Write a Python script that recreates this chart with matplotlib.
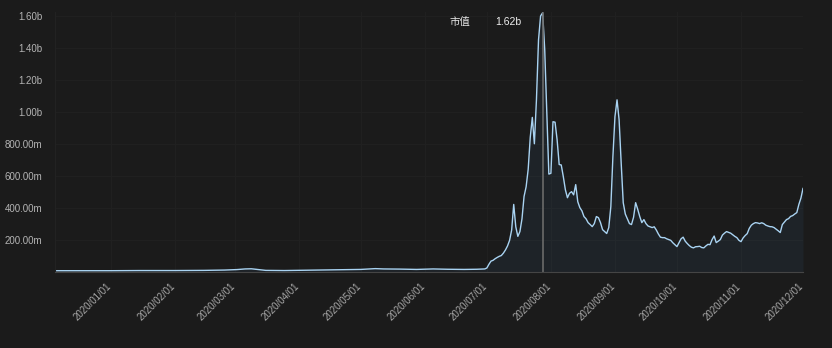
"""Market cap line chart (dark theme) recreated with matplotlib."""

import matplotlib.pyplot as plt
import matplotlib.dates as mdates
import matplotlib.transforms as mtransforms
import numpy as np
import pandas as pd
from matplotlib.ticker import FuncFormatter

# sparse readings for the flat first half (date, value in millions)
early_dates = [
    "2019-12-05", "2019-12-20", "2020-01-01", "2020-01-15", "2020-02-01",
    "2020-02-15", "2020-02-25", "2020-03-02", "2020-03-06", "2020-03-09",
    "2020-03-12", "2020-03-16", "2020-03-25", "2020-04-05", "2020-04-15",
    "2020-04-25", "2020-05-01", "2020-05-05", "2020-05-08", "2020-05-12",
    "2020-05-20", "2020-05-28", "2020-06-05", "2020-06-12", "2020-06-20",
    "2020-06-26", "2020-06-30",
]
early_values = [
    5, 5, 5, 6, 6, 7, 9, 12, 16, 17, 13, 7, 6, 8, 10, 11, 13, 16, 18, 16,
    15, 13, 16, 14, 13, 14, 16,
]

# daily readings from 2020-07-01 to 2020-12-01 (millions)
jul = [22, 45, 65, 70, 80, 88, 95, 100, 115, 135, 160, 195, 260, 420, 280,
       220, 250, 330, 470, 530, 640, 840, 965, 800, 1075, 1450, 1600, 1620,
       1390, 1010, 610]
aug = [615, 938, 935, 825, 670, 667, 594, 512, 462, 490, 500, 480, 544, 437,
       400, 380, 344, 330, 306, 294, 281, 300, 344, 337, 306, 262, 250, 238,
       275, 406, 719]
sep = [970, 1075, 950, 681, 431, 360, 330, 300, 294, 340, 431, 390, 344, 306,
       325, 300, 285, 280, 275, 280, 260, 235, 215, 212, 212, 205, 200, 195,
       180, 168]
oct_ = [156, 180, 205, 215, 190, 175, 162, 152, 148, 155, 156, 158, 150, 148,
        160, 170, 168, 200, 222, 181, 190, 200, 228, 240, 250, 245, 240, 230,
        220, 212, 195]
nov = [187, 210, 225, 237, 270, 290, 300, 306, 304, 300, 305, 300, 290, 285,
       281, 280, 275, 265, 255, 244, 294, 310, 325, 331, 345, 350, 360, 369,
       420, 460]
dec = [520]

y_ticks = [200, 400, 600, 800, 1000, 1200, 1400, 1600]
tooltip_label = "市值"

BG = "#1b1b1b"
LINE = "#a9d3f2"


def fmt_value(v, _pos=None):
    if v >= 1000:
        return f"{v / 1000:.2f}b"
    return f"{v:.2f}m"


def main() -> None:
    daily = jul + aug + sep + oct_ + nov + dec
    daily_dates = pd.date_range("2020-07-01", periods=len(daily), freq="D")
    dates = pd.to_datetime(early_dates).append(daily_dates)
    values = np.array(early_values + daily, dtype=float)

    plt.rcParams["font.family"] = ["Liberation Sans", "DejaVu Sans"]
    fig = plt.figure(figsize=(8.32, 3.48), dpi=100, facecolor=BG)
    ax = fig.add_axes([55 / 832, 1 - 271.5 / 348, 748 / 832, 259.5 / 348])
    ax.set_facecolor(BG)

    ax.fill_between(dates, values, 0, color="#3f6f9e", alpha=0.10, lw=0)
    ax.plot(dates, values, color=LINE, lw=1.0)

    peak = int(np.argmax(values))
    ax.axvline(dates[peak], color="#6a6a6a", lw=1.2, ymax=0.995)

    ax.set_xlim(dates[0], dates[-1])
    ax.set_ylim(0, 1625)
    ax.set_yticks(y_ticks)
    ax.yaxis.set_major_formatter(FuncFormatter(fmt_value))
    ax.xaxis.set_major_locator(mdates.MonthLocator(bymonthday=1))
    ax.xaxis.set_major_formatter(mdates.DateFormatter("%Y/%m/%d"))
    start = mdates.date2num(pd.Timestamp("2020-01-01"))
    ax.set_xticks([d for d in ax.get_xticks() if d >= start])

    ax.grid(True, color="#202020", lw=0.8)
    ax.set_axisbelow(True)
    for side in ("top", "right"):
        ax.spines[side].set_visible(False)
    ax.spines["left"].set_color("#222222")
    ax.spines["bottom"].set_color("#454545")

    ax.tick_params(axis="y", length=0, pad=9, labelsize=7, labelcolor="#b4b4b4")
    ax.tick_params(axis="x", length=0, pad=7, labelsize=7, labelcolor="#a8a8a8")
    shift = mtransforms.ScaledTranslation(-5 / 100, 0, fig.dpi_scale_trans)
    for lbl in ax.get_xticklabels():
        lbl.set_rotation(45)
        lbl.set_ha("right")
        lbl.set_va("top")
        lbl.set_rotation_mode("anchor")
        lbl.set_transform(lbl.get_transform() + shift)

    fig.text(450 / 832, 1 - 22 / 348, tooltip_label, color="#e6e6e6", fontsize=7.5,
             va="center", family=["Noto Sans CJK SC", "DejaVu Sans"])
    fig.text(495 / 832, 1 - 22 / 348, fmt_value(values[peak]), color="#f0f0f0",
             fontsize=7.5, va="center")

    fig.savefig("out.png", dpi=100, facecolor=BG)


if __name__ == "__main__":
    main()
